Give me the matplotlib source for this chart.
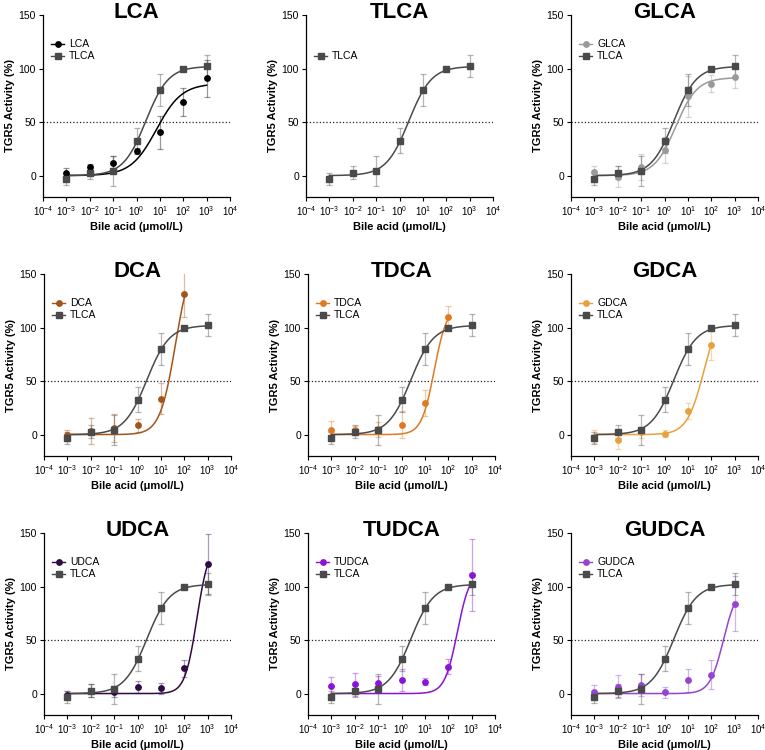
import numpy as np
import matplotlib.pyplot as plt
from matplotlib.lines import Line2D

plt.rcParams['font.family'] = ['Liberation Sans', 'DejaVu Sans']
plt.rcParams['mathtext.fontset'] = 'custom'
plt.rcParams['mathtext.rm'] = 'Liberation Sans'
plt.rcParams['mathtext.default'] = 'regular'

# concentrations (umol/L)
conc = [1e-3, 1e-2, 1e-1, 1e0, 1e1, 1e2, 1e3]

# mean, sd, fit params [bottom, top, logEC50, hill]
tlca_y = [-3.5, 2.8, 4.7, 32.6, 79.8, 100.0, 102.2]
tlca_err = [5.6, 5.7, 14.0, 11.5, 15.0, 1.0, 10.0]
tlca_fit = [0, 102, 0.40, 0.9]

lca_y = [2.5, 8.0, 11.5, 22.8, 40.5, 68.6, 90.7]
lca_err = [5.0, 3.0, 7.0, 3.0, 15.6, 13.4, 17.5]
lca_fit = [0, 86, 0.85, 0.8]

glca_y = [3.0, -1.0, 8.0, 24.0, 74.0, 86.0, 92.0]
glca_err = [6.0, 10.0, 12.0, 12.0, 19.0, 8.0, 10.0]
glca_fit = [0, 91.5, 0.48, 0.95]

dca_y = [-0.6, 3.4, 6.0, 8.7, 33.5, 131.7]
dca_err = [5.0, 12.5, 13.0, 6.0, 14.5, 21.5]
dca_fit = [0, 170, 1.63, 1.3]

tdca_y = [4.7, 4.0, 5.0, 9.3, 29.6, 110.0]
tdca_err = [8.0, 4.0, 7.0, 12.5, 12.0, 10.5]
tdca_fit = [0, 120, 1.40, 1.6]

gdca_y = [-2.0, -5.0, 2.0, 1.0, 22.4, 84.0]
gdca_err = [6.0, 8.0, 5.0, 3.0, 7.5, 14.0]
gdca_fit = [0, 120, 1.69, 1.2]

udca_y = [-1.5, 2.8, 1.9, 6.2, 5.0, 23.6, 121.0]
udca_err = [4.0, 6.0, 5.0, 6.0, 5.0, 8.0, 28.0]
udca_fit = [0, 140, 2.54, 1.7]

tudca_y = [7.5, 8.7, 10.2, 12.7, 11.2, 25.2, 110.6]
tudca_err = [8.0, 10.5, 6.0, 10.0, 3.0, 7.0, 33.5]
tudca_fit = [0, 115, 2.39, 1.6]

gudca_y = [1.9, 6.5, 8.0, 1.2, 12.4, 17.7, 84.0]
gudca_err = [6.5, 10.5, 10.0, 5.0, 11.0, 13.7, 26.0]
gudca_fit = [0, 100, 2.52, 1.5]

tlca_col = '#4a4a4a'
panels = [
    ('LCA', lca_y, lca_err, lca_fit, '#000000'),
    ('TLCA', None, None, None, None),
    ('GLCA', glca_y, glca_err, glca_fit, '#9a9a9a'),
    ('DCA', dca_y, dca_err, dca_fit, '#a3541a'),
    ('TDCA', tdca_y, tdca_err, tdca_fit, '#e07a22'),
    ('GDCA', gdca_y, gdca_err, gdca_fit, '#e9a03e'),
    ('UDCA', udca_y, udca_err, udca_fit, '#2f0a45'),
    ('TUDCA', tudca_y, tudca_err, tudca_fit, '#8a14d6'),
    ('GUDCA', gudca_y, gudca_err, gudca_fit, '#9544cf'),
]

def logistic(x, p):
    b, t, c, h = p
    return b + (t - b) / (1 + 10 ** ((c - np.log10(x)) * h))

def draw(ax, x, y, err, fit, col, marker, ms):
    ax.errorbar(x, y, yerr=err, fmt='none', ecolor=col, alpha=0.4,
                elinewidth=0.9, capsize=2, capthick=0.9, zorder=2)
    xs = np.logspace(np.log10(x[0]), np.log10(x[-1]), 300)
    ax.plot(xs, logistic(xs, fit), color=col, lw=1.1, zorder=3)
    ax.plot(x, y, ls='none', marker=marker, ms=ms, color=col, zorder=4)

fig = plt.figure(figsize=(7.65, 7.5), dpi=100)
lefts = [[43, 306, 571], [44, 308, 571], [44, 308, 571]]
tops = [15, 274, 533]
W, H = 187, 182

for k, (name, y, err, fit, col) in enumerate(panels):
    r, c = divmod(k, 3)
    ax = fig.add_axes([lefts[r][c] / 765, 1 - (tops[r] + H) / 750, W / 765, H / 750])
    ax.set_xscale('log')
    ax.set_xlim(1e-4, 1e4)
    ax.set_ylim(-20, 150)
    ax.axhline(50, color='#222222', ls=':', lw=0.9, zorder=1)
    handles = []
    if y is not None:
        draw(ax, conc[:len(y)], y, err, fit, col, 'o', 3.9)
        handles.append(Line2D([], [], color=col, marker='o', ms=3.9, lw=1.0, label=name))
    draw(ax, conc, tlca_y, tlca_err, tlca_fit, tlca_col, 's', 3.7)
    handles.append(Line2D([], [], color=tlca_col, marker='s', ms=3.7, lw=1.0, label='TLCA'))

    ax.set_xticks([10.0 ** e for e in range(-4, 5)])
    ax.set_xticklabels(['$10^{%d}$' % e for e in range(-4, 5)])
    ax.minorticks_off()
    ax.set_yticks([0, 50, 100, 150])
    ax.tick_params(labelsize=7, length=3, width=0.8, pad=2, colors='black')
    ax.tick_params(axis='y', labelsize=7.5)
    for s in ['top', 'right']:
        ax.spines[s].set_visible(False)
    for s in ['left', 'bottom']:
        ax.spines[s].set_linewidth(0.9)
    ax.set_xlabel('Bile acid (μmol/L)', fontsize=8, fontweight='bold', labelpad=3)
    ax.set_ylabel('TGR5 Activity (%)', fontsize=8, fontweight='bold', labelpad=3)
    ax.set_title(name, fontsize=16, fontweight='bold', y=1.0, pad=-2.3)
    ax.legend(handles=handles, loc='lower left', bbox_to_anchor=(0.0, 0.70),
              frameon=False, fontsize=7.5, handlelength=1.2, handletextpad=0.5,
              labelspacing=0.2, borderpad=0.3)

fig.savefig('out.png', dpi=100)
